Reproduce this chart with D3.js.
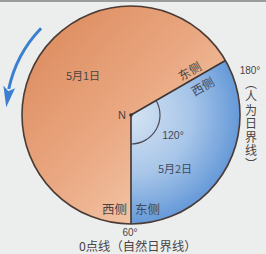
<!DOCTYPE html>
<html><head><meta charset="utf-8">
<script src="https://cdn.jsdelivr.net/npm/d3@7"></script>
<style>html,body{margin:0;padding:0;background:#eceeee;}svg{display:block;}</style>
</head><body>
<script>
// ---- data ----
const dates = ["5月1日", "5月2日"];
const sectorAngles = [240, 120];          // degrees: orange (5月1日), blue (5月2日)
const meridians = ["60°", "180°"];
const meridianNames = ["0点线（自然日界线）", "（人为日界线）"];
const sides = ["东侧", "西侧"];
const poleLabel = "N";
const angleLabel = "120°";

const W = 266, H = 254;
const cx = 131, cy = 115, R = 109;
const svg = d3.select("body").append("svg").attr("width", W).attr("height", H);
const font = "'Noto Sans CJK SC', 'Noto Sans', sans-serif";
const latin = "'Liberation Sans', Arial, sans-serif";

const defs = svg.append("defs");
const og = defs.append("linearGradient").attr("id", "og").attr("gradientUnits", "userSpaceOnUse")
  .attr("x1", 35).attr("y1", 25).attr("x2", 215).attr("y2", 195);
og.append("stop").attr("offset", 0).attr("stop-color", "#dd8b5e");
og.append("stop").attr("offset", 0.5).attr("stop-color", "#eaa882");
og.append("stop").attr("offset", 1).attr("stop-color", "#f6d0b4");
const bg = defs.append("radialGradient").attr("id", "bg").attr("gradientUnits", "userSpaceOnUse")
  .attr("cx", cx).attr("cy", cy).attr("r", R);
bg.append("stop").attr("offset", 0).attr("stop-color", "#d5e3f2");
bg.append("stop").attr("offset", 0.55).attr("stop-color", "#a8c6e9");
bg.append("stop").attr("offset", 1).attr("stop-color", "#6599d8");

svg.append("rect").attr("width", W).attr("height", 2).attr("fill", "#9a9c9c");

// angle scale: degrees measured from the 0 meridian (pointing down), counter-clockwise on screen
const ang = d3.scaleLinear().domain([0, 360]).range([Math.PI, -Math.PI]);
const sector = (a0, a1) => d3.arc().innerRadius(0).outerRadius(R)({startAngle: a0, endAngle: a1});

const cpO = defs.append("clipPath").attr("id", "cpO");
cpO.append("path").attr("transform", `translate(${cx},${cy})`)
  .attr("d", sector(ang(360) + 2 * Math.PI, ang(sectorAngles[1]) + 2 * Math.PI));
const cpB = defs.append("clipPath").attr("id", "cpB");
cpB.append("path").attr("transform", `translate(${cx},${cy})`)
  .attr("d", sector(ang(0), ang(sectorAngles[1])));
svg.append("rect").attr("width", W).attr("height", H).attr("fill", "url(#og)").attr("clip-path", "url(#cpO)");
svg.append("rect").attr("width", W).attr("height", H).attr("fill", "url(#bg)").attr("clip-path", "url(#cpB)");

// outline
svg.append("circle").attr("cx", cx).attr("cy", cy).attr("r", R).attr("fill", "none").attr("stroke", "#4b3b35").attr("stroke-width", 1.6);
// radii
const pt = (deg, r) => { const a = ang(deg); return [cx + r * Math.sin(a), cy - r * Math.cos(a)]; };
[0, sectorAngles[1]].forEach(d => {
  const p = pt(d, R);
  svg.append("line").attr("x1", cx).attr("y1", cy).attr("x2", p[0]).attr("y2", p[1]).attr("stroke", "#3d3532").attr("stroke-width", 1.6);
});
// 120° angle arc
svg.append("path").attr("transform", `translate(${cx},${cy})`)
  .attr("d", d3.arc().innerRadius(29).outerRadius(29)({startAngle: ang(sectorAngles[1]), endAngle: ang(0)}))
  .attr("fill", "none").attr("stroke", "#4a4a55").attr("stroke-width", 1.2);
svg.append("circle").attr("cx", cx).attr("cy", cy).attr("r", 1.8).attr("fill", "#333");

const txt = (x, y, s, size, anchor, color, fam) => svg.append("text").attr("x", x).attr("y", y).text(s)
  .attr("font-family", fam || font).attr("font-size", size).attr("text-anchor", anchor || "middle").attr("fill", color || "#4a4444");

txt(126, 119, poleLabel, 11, "end", null, latin);
txt(83, 80, dates[0], 11);
txt(175, 173, dates[1], 11, "middle", "#3e4a5c");
txt(173, 139, angleLabel, 10.5, "middle", "#3e4a5c", latin);
// rotated side labels along 180° line
svg.append("text").attr("transform", `translate(192,75) rotate(-30)`).text(sides[0])
  .attr("font-family", font).attr("font-size", 12).attr("text-anchor", "middle").attr("fill", "#4a4444");
svg.append("text").attr("transform", `translate(205,90.5) rotate(-30)`).text(sides[1])
  .attr("font-family", font).attr("font-size", 12).attr("text-anchor", "middle").attr("fill", "#3e4a5c");
// bottom side labels
txt(127, 214, sides[1], 12.5, "end");
txt(135, 214, sides[0], 12.5, "start", "#3e4a5c");
// meridian labels
txt(130, 236, meridians[0], 10, "middle", null, latin);
txt(79, 250.5, meridianNames[0], 12.3, "start");
txt(250, 74, meridians[1], 10, "middle", null, latin);
// vertical text
svg.append("text").attr("x", 251).attr("y", 77).text(meridianNames[1])
  .attr("font-family", font).attr("font-size", 12).attr("fill", "#4a4444")
  .style("writing-mode", "vertical-rl").attr("letter-spacing", 1.5);

// rotation arrow
const rad = d => d * Math.PI / 180;
const rA = 125;
svg.append("path").attr("transform", `translate(${cx},${cy})`)
  .attr("d", d3.arc().innerRadius(rA).outerRadius(rA)({startAngle: rad(-46), endAngle: rad(-78)}))
  .attr("fill", "none").attr("stroke", "#3b7fd2").attr("stroke-width", 3);
const polar = (deg, r) => [cx + r * Math.sin(rad(deg)), cy - r * Math.cos(rad(deg))];
const head = [polar(-77, rA - 6), polar(-86.5, rA), polar(-77, rA + 6), polar(-79, rA)];
svg.append("path").attr("d", "M" + head.map(p => p.join(",")).join("L") + "Z").attr("fill", "#3b7fd2");
</script>
</body></html>
